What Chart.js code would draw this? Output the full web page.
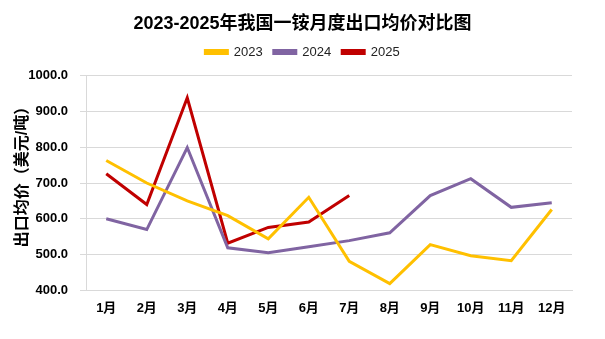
<!DOCTYPE html>
<html>
<head>
<meta charset="utf-8">
<script src="https://cdn.jsdelivr.net/npm/chart.js@4.4.0/dist/chart.umd.min.js"></script>
<style>
  html, body { margin: 0; padding: 0; background: #fff; }
  #wrap { width: 605px; height: 339px; position: relative; }
</style>
</head>
<body>
<div id="wrap"><canvas id="chart"></canvas></div>
<script>
  const months = ['1月', '2月', '3月', '4月', '5月', '6月', '7月', '8月', '9月', '10月', '11月', '12月'];
  const price2023 = [763, 700, 650, 609, 544, 660, 481, 419, 528, 497, 483, 626];
  const price2024 = [600, 570, 799, 519, 505, 522, 539, 561, 665, 712, 632, 645];
  const price2025 = [726, 640, 938, 532, 576, 591, 665];
  const yTitle = '出口均价（美元/吨）';

  const fontFamily = '"Liberation Sans", "Noto Sans CJK SC", sans-serif';

  function series(label, data, color) {
    return {
      label,
      data,
      borderColor: color,
      backgroundColor: color,
      borderWidth: 3,
      pointRadius: 0,
      tension: 0,
      fill: false,
    };
  }

  // leave some space between the legend and the plot area
  const legendGap = {
    id: 'legendGap',
    beforeInit(chart) {
      const fit = chart.legend.fit;
      chart.legend.fit = function fitWithGap() {
        fit.bind(chart.legend)();
        this.height += 7;
      };
    },
  };

  // y axis title sits a bit above the middle of the axis, like the original
  const sideTitle = {
    id: 'sideTitle',
    afterDraw(chart) {
      const { ctx, chartArea } = chart;
      const mid = (chartArea.top + chartArea.bottom) / 2 - 10;
      ctx.save();
      ctx.translate(23, mid);
      ctx.rotate(-Math.PI / 2);
      ctx.font = 'bold 16px ' + fontFamily;
      ctx.fillStyle = '#000';
      ctx.textAlign = 'center';
      ctx.textBaseline = 'middle';
      ctx.fillText(yTitle, 0, 0);
      ctx.restore();
    },
  };

  new Chart(document.getElementById('chart').getContext('2d'), {
    type: 'line',
    data: {
      labels: months,
      datasets: [
        series('2023', price2023, '#FFC000'),
        series('2024', price2024, '#8064A2'),
        series('2025', price2025, '#C00000'),
      ],
    },
    options: {
      responsive: true,
      maintainAspectRatio: false,
      animation: false,
      layout: { padding: { left: 0, right: 0, top: 4, bottom: 13 } },
      plugins: {
        title: {
          display: true,
          text: '2023-2025年我国一铵月度出口均价对比图',
          color: '#000',
          font: { family: fontFamily, size: 18, weight: 'bold' },
          padding: { top: 9, bottom: 0 },
        },
        legend: {
          position: 'top',
          labels: {
            color: '#222',
            boxWidth: 22,
            boxHeight: 3,
            padding: 11,
            font: { family: fontFamily, size: 13 },
          },
        },
        tooltip: { enabled: false },
      },
      scales: {
        x: {
          offset: true,
          grid: { display: false, drawTicks: false },
          border: { color: '#d9d9d9', width: 1 },
          ticks: {
            color: '#000',
            padding: 10,
            maxRotation: 0,
            font: { family: fontFamily, size: 13, weight: 'bold' },
          },
        },
        y: {
          min: 400,
          max: 1000,
          afterFit: scale => { scale.width = 86; },
          grid: { color: '#d9d9d9', lineWidth: 1, tickLength: 6 },
          border: { color: '#d9d9d9', width: 1 },
          ticks: {
            stepSize: 100,
            color: '#000',
            padding: 12,
            font: { family: fontFamily, size: 13, weight: 'bold' },
            callback: v => v.toFixed(1),
          },
        },
        // empty right axis that only holds the right margin
        y2: {
          position: 'right',
          afterFit: scale => { scale.width = 33; },
          grid: { display: false, drawTicks: false },
          border: { display: false },
          ticks: { display: false },
        },
      },
    },
    plugins: [legendGap, sideTitle],
  });
</script>
</body>
</html>
